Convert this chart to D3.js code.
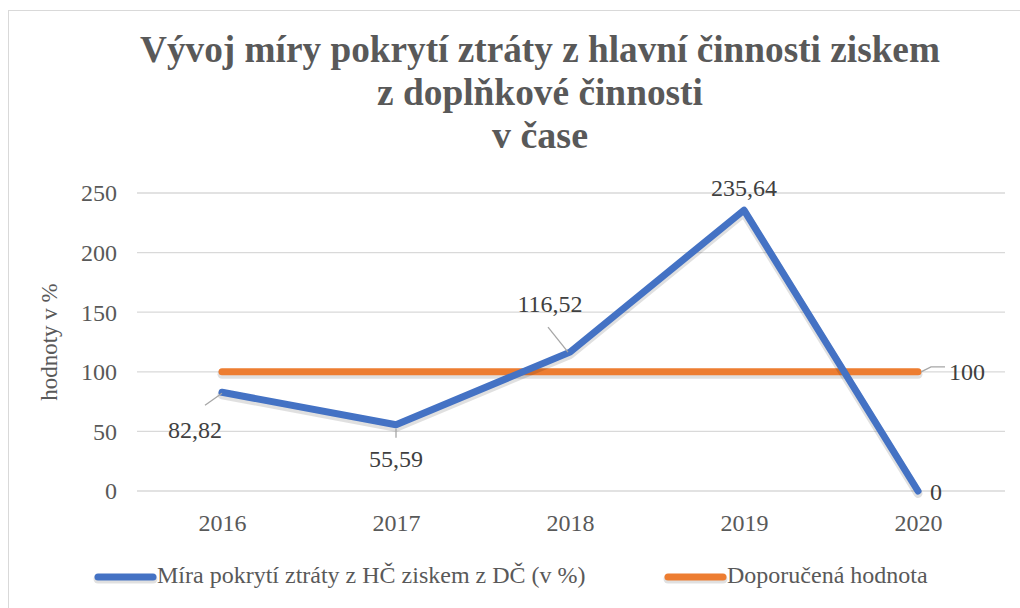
<!DOCTYPE html>
<html><head><meta charset="utf-8">
<script src="https://cdn.jsdelivr.net/npm/d3@7"></script>
</head><body style="margin:0">
<svg id="c" width="1020" height="608"></svg>
<script>
const categories = ["2016","2017","2018","2019","2020"];
const coverage = [82.82, 55.59, 116.52, 235.64, 0];
const recommended = [100, 100, 100, 100, 100];
const coverageLabels = ["82,82","55,59","116,52","235,64","0"];
const yTicks = [0,50,100,150,200,250];
const seriesNames = ["Míra pokrytí ztráty z HČ ziskem z DČ (v %)","Doporučená hodnota"];
const titleLines = ["Vývoj míry pokrytí ztráty z hlavní činnosti ziskem","z doplňkové činnosti","v čase"];

const W=1020,H=608;
const M={left:135,right:1005,top:193,bottom:491};
const FONT="Liberation Serif";
const svg=d3.select("#c");
function txt(sel){return sel.attr("font-family",FONT).style("font-family","'Liberation Serif', serif");}

svg.append("rect").attr("x",8.5).attr("y",10.5).attr("width",1030).attr("height",620).attr("fill","#fff").attr("stroke","#d9d9d9").attr("stroke-width",1);

// title
const titleBase=[62,105,148], titleW=[800,326,96];
titleLines.forEach((t,i)=>{
  const g=svg.append("g").attr("transform",`translate(540,${titleBase[i]})`);
  const tx=txt(g.append("text")).text(t).attr("text-anchor","middle")
    .attr("font-weight","bold").attr("font-size",38).attr("fill","#595959");
  const w=tx.node().getComputedTextLength();
  tx.attr("transform",`scale(${titleW[i]/w},1)`);
});

const x=d3.scalePoint().domain(categories).range([M.left,M.right]).padding(0.5);
const y=d3.scaleLinear().domain([0,250]).range([M.bottom,M.top]);

// grid
svg.append("g").selectAll("line").data(yTicks).join("line")
  .attr("x1",M.left+2).attr("x2",M.right).attr("y1",d=>y(d)).attr("y2",d=>y(d))
  .attr("stroke","#d9d9d9").attr("stroke-width",1.3);

// y axis
const ya=svg.append("g").attr("transform",`translate(${M.left-18},0)`)
  .call(d3.axisLeft(y).tickValues(yTicks).tickSize(0).tickPadding(0));
ya.select(".domain").remove();
ya.attr("font-family",FONT).attr("font-size",24);
txt(ya.selectAll("text")).attr("font-size",24).attr("fill","#595959").attr("dy","0.33em");

// x axis
const xa=svg.append("g").attr("transform",`translate(0,${M.bottom})`)
  .call(d3.axisBottom(x).tickSize(0).tickPadding(0));
xa.select(".domain").remove();
xa.attr("font-family",FONT).attr("font-size",24);
txt(xa.selectAll("text")).attr("font-size",24).attr("fill","#595959").attr("dy","1.65em");

txt(svg.append("text")).attr("transform",`translate(57,${(M.top+M.bottom)/2}) rotate(-90)`)
  .attr("text-anchor","middle").attr("font-size",23).attr("fill","#595959")
  .text("hodnoty v %");

// lines with soft shadow copies
const line=d3.line().x((d,i)=>x(categories[i])).y(d=>y(d));
function drawLine(data,color){
  svg.append("path").datum(data).attr("d",line).attr("transform","translate(0,2.5)").attr("fill","none")
    .attr("stroke","#000").attr("stroke-opacity",0.12).attr("stroke-width",9)
    .attr("stroke-linecap","round").attr("stroke-linejoin","round");
  svg.append("path").datum(data).attr("d",line).attr("fill","none").attr("stroke",color)
    .attr("stroke-width",7).attr("stroke-linecap","round").attr("stroke-linejoin","round");
}
drawLine(recommended,"#ED7D31");
drawLine(coverage,"#4472C4");

// data label placement (offsets from the point)
const lblStyle=[
  {dx:-27,dy:46,a:"middle",lead:[[-17,13],[0,1]]},
  {dx:0,dy:42,a:"middle",lead:[[0,4],[0,13]]},
  {dx:-20,dy:-40,a:"middle",lead:[[-22,-25],[-2,0]]},
  {dx:0,dy:-14,a:"middle",lead:null},
  {dx:12,dy:9,a:"start",lead:null}
];
const gl=svg.append("g");
coverage.forEach((v,i)=>{
  const px=x(categories[i]),py=y(v),s=lblStyle[i];
  if(s.lead) gl.append("line").attr("x1",px+s.lead[0][0]).attr("y1",py+s.lead[0][1])
    .attr("x2",px+s.lead[1][0]).attr("y2",py+s.lead[1][1]).attr("stroke","#a6a6a6").attr("stroke-width",1.3);
  txt(gl.append("text")).attr("x",px+s.dx).attr("y",py+s.dy).attr("text-anchor",s.a)
    .attr("font-size",24).attr("fill","#404040").text(coverageLabels[i]);
});
{
  const i=recommended.length-1,px=x(categories[i]),py=y(recommended[i]);
  gl.append("path").attr("d",`M${px+3},${py}L${px+13},${py-5}L${px+27},${py-5}`).attr("fill","none")
    .attr("stroke","#a6a6a6").attr("stroke-width",1.3);
  txt(gl.append("text")).attr("x",px+31).attr("y",py+8).attr("font-size",24)
    .attr("fill","#404040").text(String(recommended[i]));
}

// legend
const legX=[98,668], legColor=["#4472C4","#ED7D31"], legY=577;
seriesNames.forEach((n,i)=>{
  svg.append("line").attr("x1",legX[i]).attr("x2",legX[i]+55).attr("y1",legY+2).attr("y2",legY+2)
    .attr("stroke","#000").attr("stroke-opacity",0.12).attr("stroke-width",9).attr("stroke-linecap","round");
  svg.append("line").attr("x1",legX[i]).attr("x2",legX[i]+55).attr("y1",legY).attr("y2",legY)
    .attr("stroke",legColor[i]).attr("stroke-width",7).attr("stroke-linecap","round");
  txt(svg.append("text")).attr("x",legX[i]+59).attr("y",legY+6).attr("font-size",24)
    .attr("fill","#595959").text(n);
});
</script>
</body></html>
